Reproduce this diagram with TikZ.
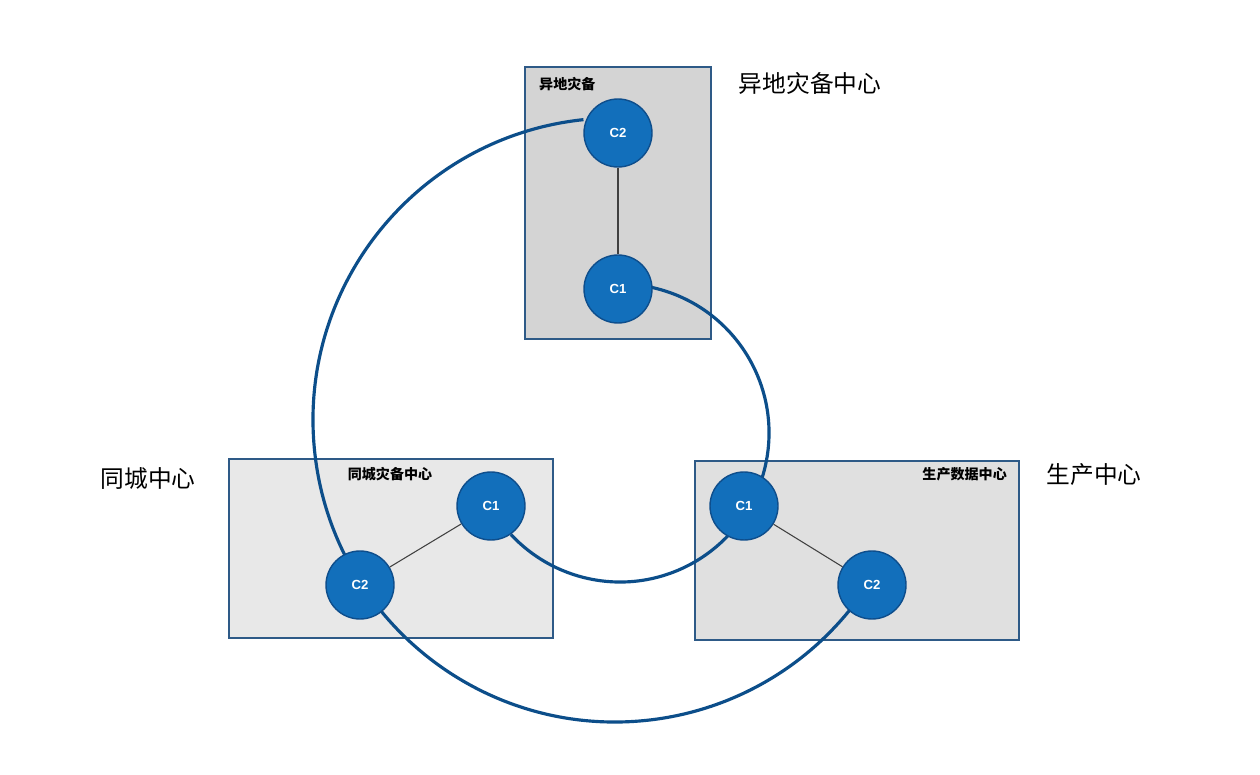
\documentclass[tikz,border=0pt]{standalone}
\usepackage{fontspec}
\setmainfont{Liberation Sans}
\newfontfamily\cjk{Noto Sans CJK SC}
\definecolor{bord}{RGB}{46,90,135}
\definecolor{nodefill}{RGB}{18,111,187}
\definecolor{nodebord}{RGB}{14,78,140}
\definecolor{ring}{RGB}{12,78,138}
\begin{document}
\begin{tikzpicture}[x=0.02cm,y=0.02cm,
  box/.style={draw=bord,line width=0.8pt},
  cnode/.style={circle,fill=nodefill,draw=nodebord,line width=0.8pt,minimum size=1.36cm,inner sep=0pt,text=white,font=\bfseries\fontsize{7.5}{8}\selectfont},
  link/.style={draw=black!75,line width=0.6pt},
  ringline/.style={draw=ring,line width=1.8pt},
  small/.style={font=\cjk\bfseries\fontsize{8}{9}\selectfont},
  big/.style={font=\cjk\fontsize{13.5}{15}\selectfont}]
\useasboundingbox (0,0) rectangle (1260,774);
\fill[white] (0,0) rectangle (1260,774);
\filldraw[box,fill={rgb,255:red,212;green,212;blue,212}] (525,435) rectangle (711,707);
\filldraw[box,fill={rgb,255:red,232;green,232;blue,232}] (229,136) rectangle (553,315);
\filldraw[box,fill={rgb,255:red,224;green,224;blue,224}] (695,134) rectangle (1019,313);
\node[small,anchor=west] (l1) at (533,690) {异地灾备};
\node[small] (l2) at (390,300) {同城灾备中心};
\node[small,anchor=east] (l3) at (1013,300) {生产数据中心};
\node[big] (b1) at (810,691) {异地灾备中心};
\node[big] (b2) at (148,295) {同城中心};
\node[big] (b3) at (1094,299) {生产中心};
% rings
\draw[ringline] (615,354) ++(96:302) arc[start angle=96,end angle=321,radius=302];
\draw[ringline] (620,341) ++(78:149) arc[start angle=78,end angle=-137,radius=149];
\node[cnode] (tc2) at (618,641) {C2};
\node[cnode] (tc1) at (618,485) {C1};
\node[cnode] (lc1) at (491,268) {C1};
\node[cnode] (lc2) at (360,189) {C2};
\node[cnode] (rc1) at (744,268) {C1};
\node[cnode] (rc2) at (872,189) {C2};
\draw[link] (tc2) -- (tc1);
\draw[link] (lc1) -- (lc2);
\draw[link] (rc1) -- (rc2);
\end{tikzpicture}
\end{document}
